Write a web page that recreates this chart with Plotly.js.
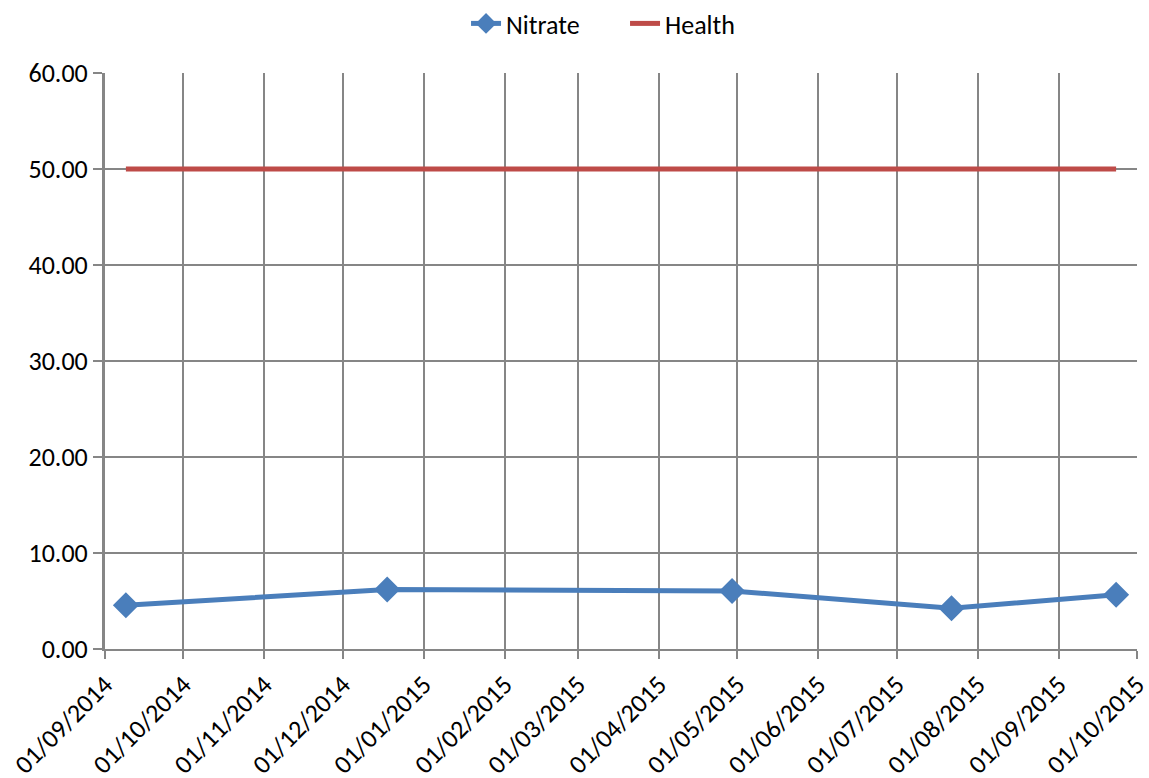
<!DOCTYPE html>
<html>
<head>
<meta charset="utf-8">
<script src="https://cdn.plot.ly/plotly-3.0.1.min.js"></script>
<style>
  html, body { margin: 0; padding: 0; background: #fff; }
  #chart { width: 1149px; height: 778px; }
</style>
</head>
<body>
<div id="chart"></div>
<script>
// Sampling dates and measured nitrate (mg/L), with the health guideline value
const sampleDates = ['2014-09-09', '2014-12-18', '2015-04-29', '2015-07-22', '2015-09-23'];
const nitrateValues = [4.55, 6.2, 6.05, 4.25, 5.65];
const healthValues = [50, 50, 50, 50, 50];

const fontFamily = 'Carlito, "Liberation Sans", "Noto Sans", sans-serif';
const gridColor = '#868686';

const traces = [
  {
    name: 'Nitrate',
    x: sampleDates,
    y: nitrateValues,
    type: 'scatter',
    mode: 'lines+markers',
    line: { color: '#4A7EBB', width: 5 },
    marker: { symbol: 'diamond', size: 20, color: '#4A7EBB' }
  },
  {
    name: 'Health',
    x: sampleDates,
    y: healthValues,
    type: 'scatter',
    mode: 'lines',
    line: { color: '#BE4B48', width: 5 }
  }
];

const layout = {
  width: 1149,
  height: 778,
  margin: { l: 105, r: 12, t: 73, b: 129 },
  paper_bgcolor: '#fff',
  plot_bgcolor: '#fff',
  font: { family: fontFamily, size: 26, color: '#000' },
  showlegend: true,
  legend: {
    orientation: 'h',
    xref: 'container', x: 0.4056, xanchor: 'left',
    yref: 'container', y: 1, yanchor: 'top',
    entrywidth: 114,
    font: { family: fontFamily, size: 26, color: '#000' },
    tracegroupgap: 0
  },
  xaxis: {
    type: 'date',
    range: ['2014-09-01', '2015-10-01'],
    tick0: '2014-09-01',
    dtick: 'M1',
    tickformat: '%d/%m/%Y',
    tickangle: -45,
    ticks: 'outside',
    ticklen: 8,
    tickwidth: 2,
    tickcolor: gridColor,
    ticklabeloverflow: 'allow',
    showgrid: true,
    gridcolor: gridColor,
    gridwidth: 2,
    showline: true,
    linecolor: gridColor,
    linewidth: 2,
    zeroline: false,
    automargin: false,
    fixedrange: true
  },
  yaxis: {
    range: [0, 60],
    tick0: 0,
    dtick: 10,
    tickformat: '.2f',
    ticks: 'outside',
    ticklen: 9,
    tickwidth: 2,
    tickcolor: gridColor,
    showgrid: true,
    gridcolor: gridColor,
    gridwidth: 2,
    showline: true,
    linecolor: gridColor,
    linewidth: 3,
    zeroline: false,
    automargin: false,
    fixedrange: true
  }
};

Plotly.newPlot('chart', traces, layout, { displayModeBar: false, staticPlot: true });
</script>
</body>
</html>
